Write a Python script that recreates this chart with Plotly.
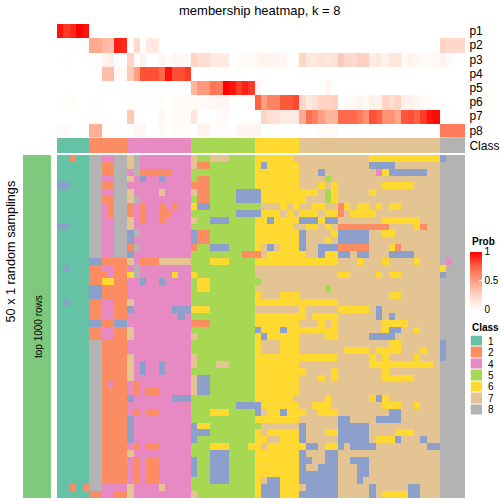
import plotly.graph_objects as go

# top: membership probabilities, one list per class row
p1 = [.95,.85,.9,1,.95] + [0]*59
p2 = [0,0,.02,0,.02,.45,.45,.38,.35,.92,.9,0,.22,0,.13,.13] + [0]*44 + [.25,.22,.22,.22]
p3 = [0,.02,0,0,0,.02,.02,.07,.1,0,0,.25,.02,.07,0,0,.06,.02,.06,.04,.03,.25,.2,.2,.12,.12,.12,0,.02,.03,.03,
      .05,.07,.07,.05,.05,0,.02,.25,.14,.14,.17,.14,.17,.3,.22,.22,.27,.27,.1,.14,.07,.15,.15,.04,.08,.06,.03,.03,.03,.07,.03,0,0]
p4 = [0]*7 + [.35,.35,.04,.04,.3,.5,.8,.8,.8,.72,.95,.8,.8,.85] + [0]*43
p5 = [0]*21 + [.4,.52,.52,.68,.65,1,.95,.85,.92,.85,.05] + [0]*10 + [.06] + [0]*21
p6 = [0,.02,.02,0,0,.02,.02,0,0,0,0,.02,0,.02,0,0,.02,0,.03,.03,.03,.03,.03,.03,.05,.05,.05,0,0,0,.03,
      .75,.5,.62,.62,.78,.78,.82,.22,.13,.18,.25,.25,.28,0,.03,.03,.05,.03,.08,.08,.25,.2,.25,.08,.08,.05,.02,.02,0,.02,0,0,0]
p7 = [0]*11 + [.3,0,0,0,0,.05,0,.03,.03,.03,.15,0,0,0,.03,.03,0,0,0,0,0,
      .25,.17,.17,.12,.12,.12,.45,.7,.62,.5,.4,.4,.72,.72,.72,.65,.55,.8,.75,.55,.55,.45,.78,.8,.75,.85,.95,.98,0,0,0,0]
p8 = [.03,.03,0,0,0,.42,.42,.02,.02,0,0,.02,.05,.05,0,0,.03,0,.02,.02,.02,0,.07,.07,.02,.02,.02,0,.05,.06,.05,.05,0,.02,
      0,0,0,0,.02,0,0,.03,.03,.03,0,0,0,0,0,0,.01,0,0,0,0,0,0,0,0,0,.65,.65,.65,.65]
prob_names = ["p1","p2","p3","p4","p5","p6","p7","p8"]
prob_rows = [p1,p2,p3,p4,p5,p6,p7,p8]

class_bar = "11111 222222 4444444444 5555555555 6666666 7777777777777777777777 8888"

# main: predicted class per sampling (row) and partition (column); blocks only for readability
main_rows = [
"11211 884488 7844444444 7557775555 6666667 7777777777766666666666 3888",
"11111 882288 7844444444 7225555555 6366666 7777777777733337777777 8888",
"11111 882288 4822222444 5555555555 6666666 7773777777774633333377 8888",
"11111 884488 7434434444 5225555555 6666666 7777577777777777777777 8888",
"33111 882288 4444444444 2225555555 6666666 7776767777777666667777 8888",
"11111 884488 7444474444 7225555333 3666666 6667567777767777777777 8888",
"11111 882288 7844444444 5225555333 3666666 6777567777777777777777 8888",
"11111 884288 2424424244 6335555555 5777676 7766772676676766777777 8888",
"11111 884288 2424422444 5555555333 3666767 6667662766667777777777 8888",
"11111 884488 7424424444 7553335555 6636666 3336337777777666666777 8888",
"33111 884488 7444444444 5555555555 6666667 7667672222222277776277 8888",
"11111 884488 3844444444 3225555555 6666666 3777763333377667777777 8888",
"11111 884488 3444444444 3225555555 6666666 3777673333377777777777 8888",
"11111 884488 2844444444 2553335555 6737666 3773332222277762777777 8888",
"11111 884488 3444444444 5555555522 2766666 6773663373377733337777 8888",
"11111 332222 7422277777 5556665555 6666666 6666667776777677776777 8488",
"13111 224422 4844444444 5555555555 7777777 7777777777777777777777 6888",
"11111 222422 6844444644 6555555555 7777777 7777776677776766777777 3888",
"11111 226622 4434434444 5665555555 5777777 7777777777777777777777 8888",
"11111 332222 4444444444 5665555555 7777777 7777577777777777777777 8888",
"11111 332222 4444444444 5555555555 6777666 7777777777777766777777 8888",
"13111 224422 7444444444 5555555555 6666666 6666667777777777777777 8888",
"11111 224422 3444444333 6665555555 7777777 6777776666673777777777 8888",
"11111 224422 4444444434 5555555555 6666666 6766667777773737777777 8888",
"11111 332233 4444444444 2225555555 6666666 7776767777777666677777 8888",
"11111 224422 7444444444 5555555555 3666366 6666667777777633776777 8888",
"11111 224422 7444444444 7555555555 6366666 7777667777733337777777 8888",
"11111 882222 4444444444 5555555555 6777666 7777777777777766777777 3888",
"11111 882222 4444444444 5555555555 6777666 7777777666676666777677 3888",
"11111 882222 7444444444 7555555555 6666666 6666667777767677776777 3888",
"11111 882222 7434434444 7555775555 6666666 7777777777766666666667 8888",
"11111 882222 7434434444 5555555555 6666666 6777767777777677777777 8888",
"11111 882222 7444444444 7335555555 6666666 7776767777777666667777 8888",
"11111 882422 4244444444 7335555555 6666666 7777777777777777777777 8888",
"11111 882222 4242244444 7335555555 6666666 7777777777777777777777 8888",
"11111 882222 3444444333 5555555555 6666667 7777677777763677777777 8888",
"11111 882222 4444444444 5555555333 3666666 7766677777777666776777 8888",
"11111 882222 4242244444 5556665555 3766366 6776667777777733777777 8888",
"11111 882222 3444444444 5555555555 6666666 7777773377773333777777 8888",
"11111 882222 3444444444 3665555555 5777777 3777773333377777777777 8888",
"11111 882222 3444444444 3335555555 6766666 3777663333377776667777 8888",
"11111 882222 3444444444 3555555555 6677666 3777773333376663777377 8888",
"11111 882222 4242244444 5556665556 6766666 6337663733337777777733 8888",
"11111 882222 7444444444 5553335555 6666666 3777337777777777777777 8888",
"11111 882222 4242244444 3553335555 6666666 3377337733377777777777 8888",
"11111 882222 4242244444 3553335555 6666666 3773337773377777777777 8888",
"11111 882222 4242244444 3553335555 6666666 3333337773377777777777 8888",
"11111 882222 4242244444 5553335555 6733666 3333337773777777777777 8888",
"11212 884444 7444474444 5555555555 6333666 7333337777737777733777 8888",
"11111 224422 7444444444 7555555555 6333666 3333337777737666633777 8888",
]

class_levels = [1, 2, 3, 4, 5, 6, 7, 8]
class_colors = ["#66C2A5", "#FC8D62", "#8DA0CB", "#E78AC3", "#A6D854", "#FFD92F", "#E5C494", "#B3B3B3"]
legend_levels = [1, 2, 4, 5, 6, 7, 8]
prob_ticks = [0, 0.5, 1]

def digits(s):
    out = [int(c) for c in s if c != " "]
    assert len(out) == 64, (s, len(out))
    return out

main_z = [digits(r) for r in main_rows]
bar_z = [digits(class_bar)]
assert len(main_z) == 50 and all(len(r) == 64 for r in prob_rows)

W = H = 504
def xd(a, b): return [a / W, b / W]
def yd(top, bottom): return [1 - bottom / H, 1 - top / H]

# stepped colour scale for the classes
n = len(class_colors)
step_scale = []
for i, c in enumerate(class_colors):
    step_scale += [[i / n, c], [(i + 1) / n, c]]
prob_scale = [[0, "#FFFFFF"], [0.25, "#FFD4C4"], [0.5, "#FF9E81"], [0.75, "#FF6342"], [1, "#FF0000"]]

FONT = "Liberation Sans, Arial, sans-serif"
fig = go.Figure()

fig.add_trace(go.Heatmap(z=prob_rows, y=prob_names, xaxis="x", yaxis="y", colorscale=prob_scale, zmin=0, zmax=1,
    hoverinfo="skip",
    colorbar=dict(thickness=12, thicknessmode="pixels", len=58, lenmode="pixels", x=470/W, xanchor="left", xpad=0,
                  y=1-251.5/H, yanchor="top", ypad=0, outlinewidth=0, tickvals=prob_ticks, ticktext=["0", "0.5", "1"],
                  ticks="inside", ticklen=3, tickcolor="white", tickwidth=1,
                  tickfont=dict(size=10, family=FONT, color="black"))))
fig.add_trace(go.Heatmap(z=bar_z, y=["Class"], xaxis="x2", yaxis="y2", colorscale=step_scale, zmin=0.5, zmax=8.5,
    showscale=False, hoverinfo="skip"))
fig.add_trace(go.Heatmap(z=main_z, xaxis="x3", yaxis="y3", colorscale=step_scale, zmin=0.5, zmax=8.5,
    showscale=False, hoverinfo="skip"))
fig.add_trace(go.Heatmap(z=[[1]]*len(main_rows), xaxis="x4", yaxis="y4", colorscale=[[0, "#7FC97F"], [1, "#7FC97F"]],
    showscale=False, hoverinfo="skip"))
legend_names = [str(v) for v in legend_levels]
fig.add_trace(go.Heatmap(z=[[v] for v in legend_levels], y=legend_names, xaxis="x5", yaxis="y5",
    colorscale=step_scale, zmin=0.5, zmax=8.5, showscale=False, ygap=1, hoverinfo="skip"))

hidden = dict(showgrid=False, zeroline=False, showticklabels=False, ticks="", showline=False, fixedrange=True)
row_ticks = dict(showgrid=False, zeroline=False, showline=False, side="right", ticks="outside", ticklen=1,
                 tickcolor="rgba(0,0,0,0)", tickfont=dict(size=12, family=FONT, color="black"), fixedrange=True)
fig.update_layout(
    width=W, height=H, margin=dict(l=0, r=0, t=0, b=0, pad=0), plot_bgcolor="white", paper_bgcolor="white",
    font=dict(family=FONT, color="black"), showlegend=False,
    xaxis=dict(domain=xd(57, 465), range=[-0.5, 63.5], **hidden),
    yaxis=dict(domain=yd(24, 137.5), autorange="reversed", anchor="x", **row_ticks),
    xaxis2=dict(domain=xd(57, 465), range=[-0.5, 63.5], anchor="y2", **hidden),
    yaxis2=dict(domain=yd(138, 153), anchor="x2", **row_ticks),
    xaxis3=dict(domain=xd(57, 465), range=[-0.5, 63.5], anchor="y3", **hidden),
    yaxis3=dict(domain=yd(155, 498), autorange="reversed", anchor="x3", **hidden),
    xaxis4=dict(domain=xd(23, 51), anchor="y4", **hidden),
    yaxis4=dict(domain=yd(155, 498), anchor="x4", **hidden),
    xaxis5=dict(domain=xd(470.5, 482), anchor="y5", **hidden),
    yaxis5=dict(domain=yd(335.5, 415.5), autorange="reversed", anchor="x5", side="right", showgrid=False,
                zeroline=False, showline=False, ticks="outside", ticklen=3, tickcolor="rgba(0,0,0,0)",
                tickmode="array", tickvals=legend_names, ticktext=legend_names,
                tickfont=dict(size=10, family=FONT, color="black"), fixedrange=True),
    annotations=[
        dict(text="membership heatmap, k = 8", x=260/W, y=1-10.5/H, xref="paper", yref="paper", showarrow=False,
             xanchor="center", yanchor="middle", font=dict(size=13, family=FONT)),
        dict(text="50 x 1 random samplings", x=10/W, y=1-251.5/H, xref="paper", yref="paper", showarrow=False,
             textangle=-90, xanchor="center", yanchor="middle", font=dict(size=12.7, family=FONT)),
        dict(text="top 1000 rows", x=38/W, y=1-327/H, xref="paper", yref="paper", showarrow=False,
             textangle=-90, xanchor="center", yanchor="middle", font=dict(size=10, family=FONT)),
        dict(text="<b>Prob</b>", x=470/W, y=1-241/H, xref="paper", yref="paper", showarrow=False,
             xanchor="left", yanchor="middle", font=dict(size=10, family=FONT)),
        dict(text="<b>Class</b>", x=470/W, y=1-327/H, xref="paper", yref="paper", showarrow=False,
             xanchor="left", yanchor="middle", font=dict(size=10, family=FONT)),
    ],
)
fig.write_html("out.html", config={"displayModeBar": False}, post_script="document.body.style.margin='0';")
